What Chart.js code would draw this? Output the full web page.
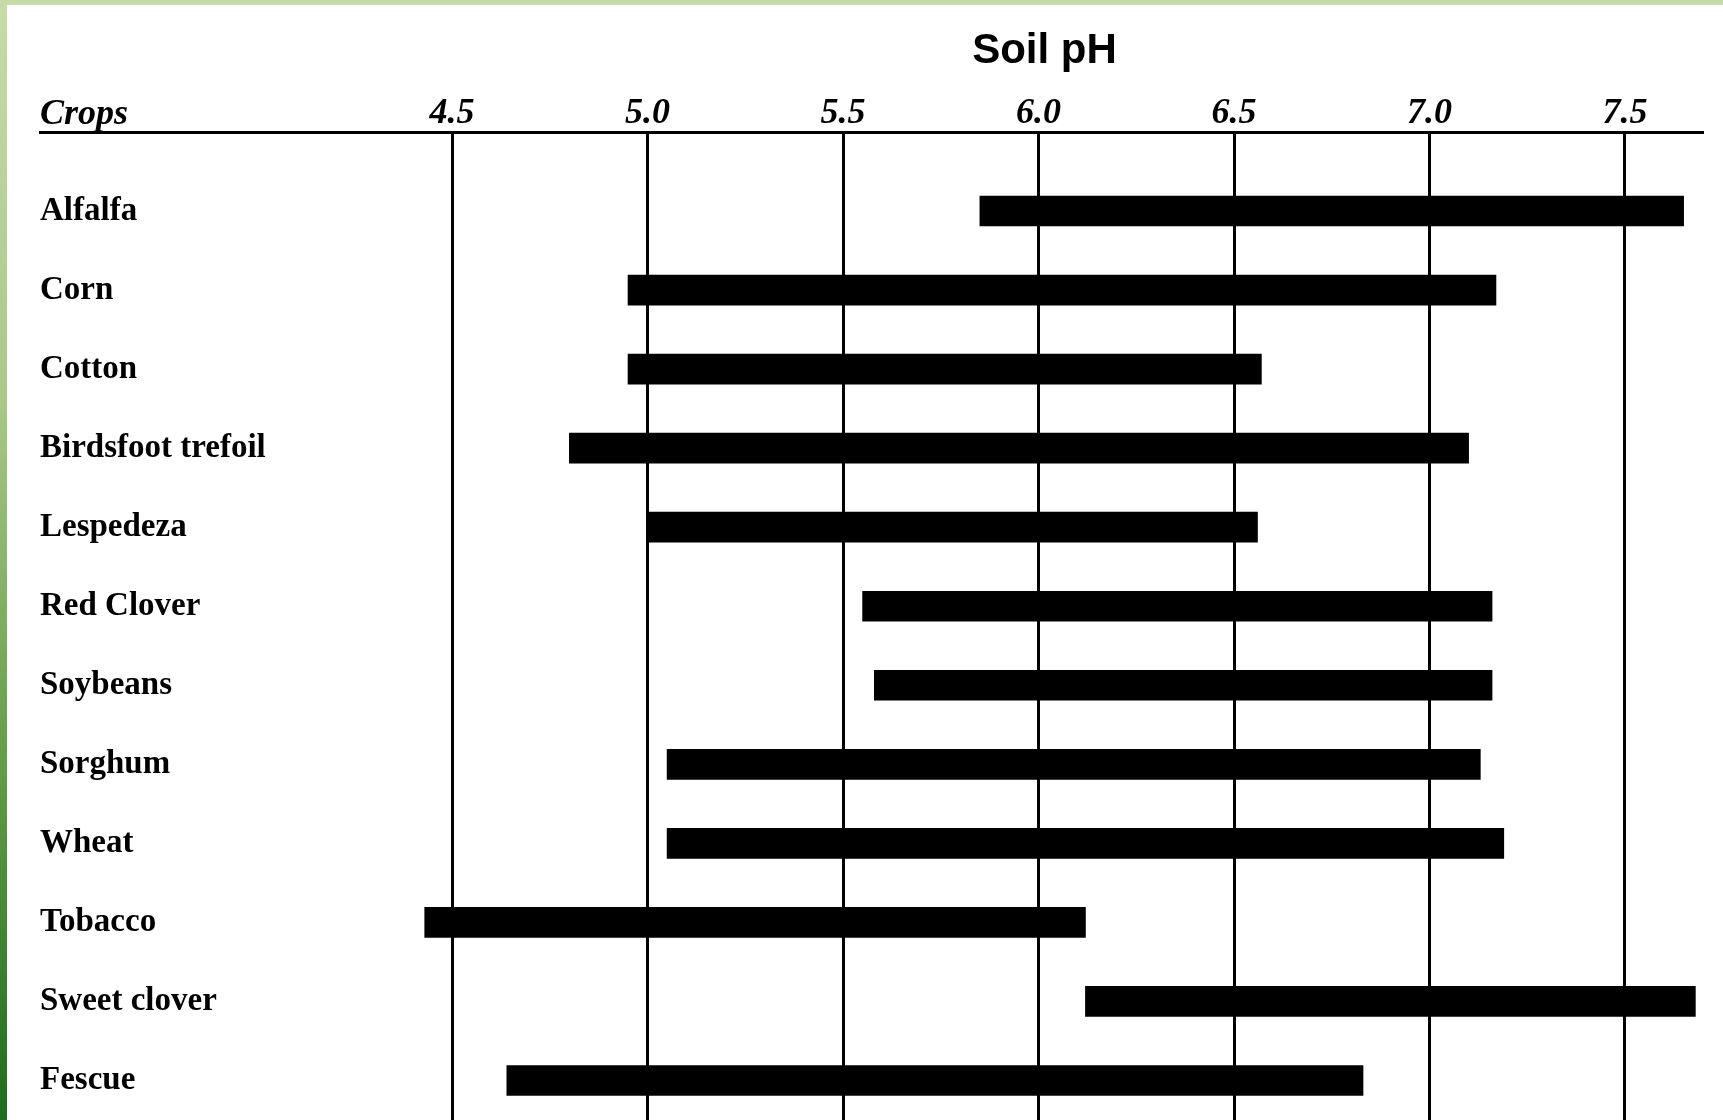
<!DOCTYPE html>
<html>
<head>
<meta charset="utf-8">
<title>Soil pH ranges for crops</title>
<script src="https://cdn.jsdelivr.net/npm/chart.js@4.4.1/dist/chart.umd.min.js"></script>
<style>
    html, body {
        margin: 0;
        padding: 0;
        background: #ffffff;
    }
    #frame {
        position: relative;
        width: 1723px;
        height: 1120px;
        overflow: hidden;
        background: #ffffff;
    }
    #topBand {
        position: absolute;
        left: 0;
        top: 0;
        width: 1723px;
        height: 5px;
        background: #c6dba9;
    }
    #leftBand {
        position: absolute;
        left: 0;
        top: 0;
        width: 7px;
        height: 1120px;
        background: linear-gradient(to bottom, #c6dba9 0%, #a9c98a 35%, #5f9a45 70%, #1d6b1d 100%);
    }
    #soilChart {
        position: absolute;
        left: 0;
        top: 0;
    }
</style>
</head>
<body>
<div id="frame">
    <div id="topBand"></div>
    <div id="leftBand"></div>
    <canvas id="soilChart" width="1723" height="1120"></canvas>
</div>
<script>
const crops = ['Alfalfa', 'Corn', 'Cotton', 'Birdsfoot trefoil', 'Lespedeza', 'Red Clover',
    'Soybeans', 'Sorghum', 'Wheat', 'Tobacco', 'Sweet clover', 'Fescue'];
const phLow = [5.85, 4.95, 4.95, 4.80, 5.00, 5.55, 5.58, 5.05, 5.05, 4.43, 6.12, 4.64];
const phHigh = [7.65, 7.17, 6.57, 7.10, 6.56, 7.16, 7.16, 7.13, 7.19, 6.12, 7.68, 6.83];
const phTicks = [4.5, 5.0, 5.5, 6.0, 6.5, 7.0, 7.5];
const titleText = 'Soil pH';
const headerLabel = 'Crops';

// one floating bar per crop, placed on its row index
const rows = crops.map((name, i) => ({ x: [phLow[i], phHigh[i]], y: i }));

// "Soil pH" over the middle of the scale and the "Crops" column header
const headerPlugin = {
    id: 'header',
    afterDraw(chart) {
        const { ctx, chartArea, scales } = chart;
        ctx.save();
        ctx.fillStyle = '#000';
        ctx.font = 'bold 42px "Liberation Sans", Arial, sans-serif';
        ctx.textAlign = 'center';
        ctx.textBaseline = 'middle';
        const mid = (phTicks[0] + phTicks[phTicks.length - 1]) / 2;
        ctx.fillText(titleText, scales.x.getPixelForValue(mid) + 6, 51);
        ctx.font = 'italic bold 36px "Liberation Serif", "Times New Roman", serif';
        ctx.textAlign = 'left';
        ctx.fillText(headerLabel, chartArea.left, 115);
        ctx.restore();
    }
};

const config = {
    type: 'bar',
    data: {
        datasets: [{
            label: 'Soil pH range',
            data: rows,
            backgroundColor: '#000000',
            borderWidth: 0,
            borderSkipped: false,
            barThickness: 30
        }]
    },
    options: {
        indexAxis: 'y',
        responsive: false,
        animation: false,
        layout: {
            padding: { left: 40, right: 21, top: 0, bottom: 0 }
        },
        plugins: {
            legend: { display: false },
            tooltip: { enabled: false },
            title: { display: false }
        },
        scales: {
            x: {
                type: 'linear',
                position: 'top',
                min: 3.446,
                max: 7.697,
                afterBuildTicks: (scale) => {
                    scale.ticks = phTicks.map(v => ({ value: v }));
                },
                afterFit: (scale) => {
                    scale.height = 132;
                },
                ticks: {
                    padding: -3,
                    color: '#000',
                    font: { family: '"Liberation Serif", "Times New Roman", serif', size: 36, style: 'italic', weight: 'bold' },
                    callback: (v) => Number(v).toFixed(1)
                },
                grid: {
                    color: '#000',
                    lineWidth: 3,
                    drawTicks: false
                },
                border: {
                    display: true,
                    color: '#000',
                    width: 3
                }
            },
            y: {
                type: 'linear',
                position: 'left',
                reverse: true,
                offset: false,
                min: -1,
                max: 11.5,
                afterBuildTicks: (scale) => {
                    scale.ticks = crops.map((c, i) => ({ value: i }));
                },
                afterFit: (scale) => {
                    scale.width = 0;
                    scale.paddingTop = 0;
                    scale.paddingBottom = 0;
                },
                ticks: {
                    mirror: true,
                    padding: 0,
                    color: '#000',
                    font: { family: '"Liberation Serif", "Times New Roman", serif', size: 33, weight: 'bold' },
                    callback: (v) => crops[v]
                },
                grid: { display: false, drawTicks: false },
                border: { display: false }
            }
        }
    },
    plugins: [headerPlugin]
};

const ctx = document.getElementById('soilChart').getContext('2d');
const chart = new Chart(ctx, config);
</script>
</body>
</html>
